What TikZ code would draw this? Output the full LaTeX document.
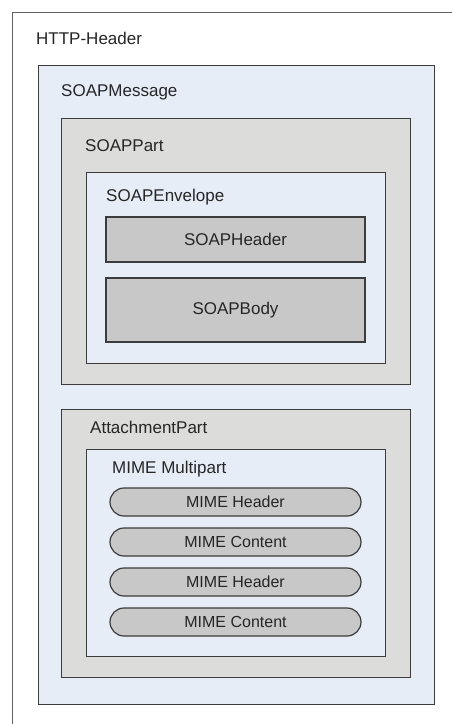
\documentclass[tikz,border=0pt]{standalone}
\usepackage{fontspec}
\setmainfont{Liberation Sans}
\definecolor{paleblue}{HTML}{E6EDF7}
\definecolor{panelgray}{HTML}{DCDCDA}
\definecolor{partgray}{HTML}{C8C8C8}
\definecolor{edge}{HTML}{3C3C3C}
\definecolor{ink}{HTML}{262626}
\begin{document}
\begin{tikzpicture}[x=1pt,y=-1pt,
  frame/.style={draw=edge, line width=1.2pt, anchor=north west, inner sep=0pt},
  bluebox/.style={frame, fill=paleblue},
  graybox/.style={frame, fill=panelgray},
  partbox/.style={frame, fill=partgray, anchor=center, font=\fontsize{17}{20}\selectfont, text=ink},
  pill/.style={partbox, rounded corners=14pt, minimum width=251pt, minimum height=28pt, font=\fontsize{16}{19}\selectfont},
  caption/.style={anchor=west, inner sep=0pt, font=\fontsize{17}{20}\selectfont, text=ink}]
  \useasboundingbox (0,0) rectangle (451,724);
  \fill[white] (0,0) rectangle (451,724);

  % outermost frame, running past the right and bottom edges
  \node[frame, draw=edge!80, line width=0.9pt, fill=white, minimum width=460pt, minimum height=730pt] (http) at (12,12) {};
  \node[caption] (httpl) at (36,38) {HTTP-Header};

  % SOAP message
  \node[bluebox, minimum width=396pt, minimum height=639pt] (msg) at (37.5,65) {};
  \node[caption] (msgl) at (61,92) {SOAPMessage};

  % SOAP part
  \node[graybox, minimum width=349pt, minimum height=266pt] (part) at (61,118) {};
  \node[caption] (partl) at (85,146) {SOAPPart};
  \node[bluebox, minimum width=299pt, minimum height=191pt] (env) at (86,172) {};
  \node[caption] (envl) at (106,197) {SOAPEnvelope};
  \node[partbox, minimum width=259pt, minimum height=45pt] (hdr) at (235.5,239.5) {SOAPHeader};
  \node[partbox, minimum width=259pt, minimum height=64pt] (body) at (235.5,310) {SOAPBody};

  % attachment part
  \node[graybox, minimum width=349pt, minimum height=268pt] (att) at (61,409) {};
  \node[caption] (attl) at (90,427) {AttachmentPart};
  \node[bluebox, minimum width=299pt, minimum height=207pt] (mp) at (86,449) {};
  \node[caption] (mpl) at (112,469) {MIME Multipart};
  \node[pill] (h1) at (235.5,502) {MIME Header};
  \node[pill] (c1) at (235.5,542) {MIME Content};
  \node[pill] (h2) at (235.5,582) {MIME Header};
  \node[pill] (c2) at (235.5,622) {MIME Content};
\end{tikzpicture}
\end{document}
